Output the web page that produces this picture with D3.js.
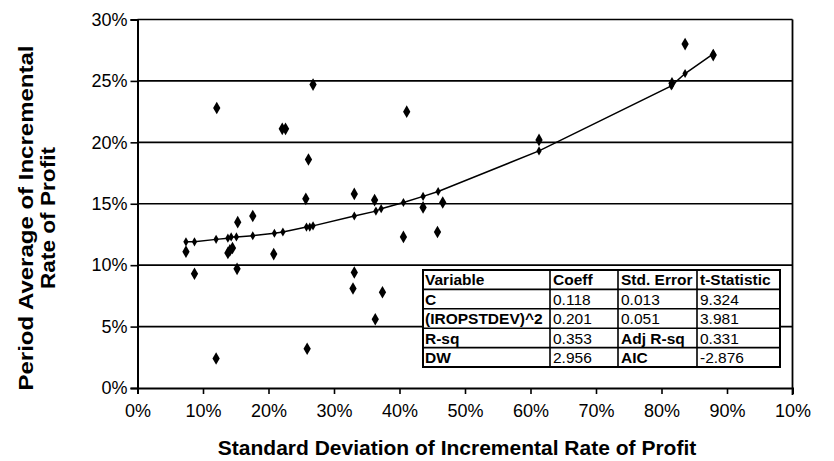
<!DOCTYPE html>
<html><head><meta charset="utf-8">
<script src="https://cdn.jsdelivr.net/npm/d3@7"></script>
<style>
html,body{margin:0;padding:0;background:#fff;}
svg text{font-family:"Liberation Sans",Arial,Helvetica,sans-serif;fill:#000;}
</style></head>
<body>
<svg id="chart" width="834" height="461"></svg>
<script>
// ---- data ----
const xTickValues = [0,0.1,0.2,0.3,0.4,0.5,0.6,0.7,0.8,0.9,1.0];
const xTickLabels = ["0%","10%","20%","30%","40%","50%","60%","70%","80%","90%","10%"];
const yTickValues = [0,0.05,0.10,0.15,0.20,0.25,0.30];
const yTickLabels = ["0%","5%","10%","15%","20%","25%","30%"];

// observed points (std dev, period average)
const obsX = [0.074,0.087,0.121,0.120,0.138,0.141,0.145,0.152,0.153,0.176,0.208,0.221,0.226,0.268,0.261,0.257,0.259,0.331,0.331,0.329,0.362,0.363,0.374,0.406,0.411,0.436,0.458,0.466,0.613,0.816,0.836,0.879];
const obsY = [0.111,0.093,0.228,0.024,0.110,0.112,0.114,0.097,0.135,0.140,0.109,0.211,0.211,0.247,0.186,0.154,0.032,0.158,0.094,0.081,0.153,0.056,0.078,0.123,0.225,0.147,0.127,0.151,0.202,0.248,0.280,0.271];

// fitted curve points
const fitX = [0.074,0.087,0.120,0.138,0.143,0.151,0.176,0.209,0.222,0.258,0.263,0.268,0.331,0.364,0.372,0.406,0.436,0.459,0.613,0.815,0.836,0.879];
const fitY = [0.119,0.119,0.121,0.122,0.123,0.123,0.124,0.126,0.127,0.131,0.131,0.132,0.140,0.144,0.146,0.151,0.156,0.160,0.193,0.246,0.256,0.272];

// regression table
const tableHeader = ["Variable","Coeff","Std. Error","t-Statistic"];
const tableRowLabels = ["C","(IROPSTDEV)^2","R-sq","DW"];
const tableCol2 = ["0.118","0.201","0.353","2.956"];
const tableCol3 = ["0.013","0.051","Adj R-sq","AIC"];
const tableCol4 = ["9.324","3.981","0.331","-2.876"];

const xTitle = "Standard Deviation of Incremental Rate of Profit";
const yTitleLines = ["Period Average of Incremental","Rate of Profit"];

// ---- layout ----
const svg = d3.select("#chart");
const L = 137.5, R = 792.5, T = 19.5, B = 388;
const x = d3.scaleLinear().domain([0,1]).range([L,R]);
const y = d3.scaleLinear().domain([0,0.30]).range([B,T]);

// gridlines
svg.append("g").selectAll("line").data(yTickValues.slice(1)).join("line")
  .attr("x1",L).attr("x2",R).attr("y1",d=>y(d)).attr("y2",d=>y(d))
  .attr("stroke","#000").attr("stroke-width",1.6);

// right border
svg.append("line").attr("x1",R).attr("x2",R).attr("y1",T).attr("y2",B+7)
  .attr("stroke","#000").attr("stroke-width",1.8);

// axes
const xAxis = d3.axisBottom(x).tickValues(xTickValues).tickFormat((d,i)=>xTickLabels[i]).tickSize(6).tickPadding(10);
const gx = svg.append("g").attr("transform",`translate(0,${B})`).call(xAxis);
gx.select(".domain").attr("stroke-width",2);
gx.selectAll(".tick line").attr("stroke-width",1.6);
gx.selectAll("text").style("font-size","18px").style("font-family","Liberation Sans, Arial, sans-serif");

const yAxis = d3.axisLeft(y).tickValues(yTickValues).tickFormat((d,i)=>yTickLabels[i]).tickSize(7).tickPadding(3);
const gy = svg.append("g").attr("transform",`translate(${L},0)`).call(yAxis);
gy.select(".domain").attr("stroke-width",2);
gy.selectAll(".tick line").attr("stroke-width",1.6);
gy.selectAll("text").style("font-size","18px").style("font-family","Liberation Sans, Arial, sans-serif");

// fitted curve
const line = d3.line().x(d=>x(d[0])).y(d=>y(d[1]));
const fitPts = fitX.map((v,i)=>[v,fitY[i]]);
svg.append("path").datum(fitPts).attr("d",line).attr("fill","none").attr("stroke","#000").attr("stroke-width",1.5);
const smallDiamond = d3.symbol().type(d3.symbolDiamond).size(24);
svg.append("g").selectAll("path").data(fitPts).join("path")
  .attr("transform",d=>`translate(${x(d[0])},${y(d[1])})`).attr("d",smallDiamond).attr("fill","#000");

// observed points
const bigDiamond = d3.symbol().type(d3.symbolDiamond).size(46);
svg.append("g").selectAll("path").data(obsX.map((v,i)=>[v,obsY[i]])).join("path")
  .attr("transform",d=>`translate(${x(d[0])},${y(d[1])})`).attr("d",bigDiamond).attr("fill","#000");

// table
const colX = [423,550,618,697,780];
const rowY0 = 270, rowH = 19.4;
const tbl = svg.append("g");
const nRows = 5;
tbl.append("rect").attr("x",colX[0]).attr("y",rowY0).attr("width",colX[4]-colX[0]).attr("height",rowH*nRows)
  .attr("fill","#fff").attr("stroke","#000").attr("stroke-width",2);
tbl.selectAll("line.h").data(d3.range(1,nRows)).join("line").attr("class","h")
  .attr("x1",colX[0]).attr("x2",colX[4]).attr("y1",d=>rowY0+d*rowH).attr("y2",d=>rowY0+d*rowH)
  .attr("stroke","#000").attr("stroke-width",1.6);
tbl.selectAll("line.v").data([1,2,3]).join("line").attr("class","v")
  .attr("x1",d=>colX[d]).attr("x2",d=>colX[d]).attr("y1",rowY0).attr("y2",rowY0+rowH*nRows)
  .attr("stroke","#000").attr("stroke-width",1.6);
const cells = [];
tableHeader.forEach((t,c)=>cells.push({t,r:0,c,b:true}));
tableRowLabels.forEach((t,i)=>cells.push({t,r:i+1,c:0,b:true}));
tableCol2.forEach((t,i)=>cells.push({t,r:i+1,c:1,b:false}));
tableCol3.forEach((t,i)=>cells.push({t,r:i+1,c:2,b:/[A-Za-z]/.test(t)}));
tableCol4.forEach((t,i)=>cells.push({t,r:i+1,c:3,b:false}));
tbl.selectAll("text").data(cells).join("text")
  .attr("x",d=>colX[d.c]+(d.c===0?2:3)).attr("y",d=>rowY0+(d.r+1)*rowH-4)
  .style("font-size","15.5px").style("font-weight",d=>d.b?"bold":"normal").text(d=>d.t);

// titles
svg.append("text").attr("x",457).attr("y",455).attr("text-anchor","middle")
  .style("font-size","21px").style("font-weight","bold").text(xTitle);
const yTitleLen = [345, 142];
yTitleLines.forEach((t,i)=>{
  svg.append("text").attr("transform",`translate(${33+i*22},218) rotate(-90)`)
    .attr("text-anchor","middle").attr("textLength",yTitleLen[i]).attr("lengthAdjust","spacingAndGlyphs")
    .style("font-size","21px").style("font-weight","bold").text(t);
});
</script>
</body></html>
